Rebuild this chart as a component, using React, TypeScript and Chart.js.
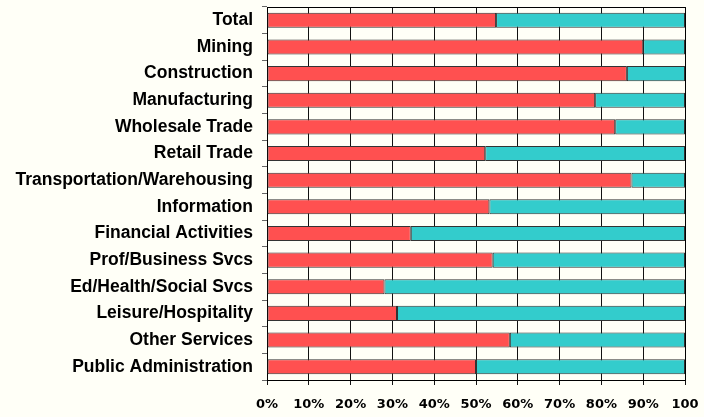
import { useEffect, useRef } from 'react';
import { Chart, registerables } from 'chart.js';

Chart.register(...registerables);

const categories = [
  'Total',
  'Mining',
  'Construction',
  'Manufacturing',
  'Wholesale Trade',
  'Retail Trade',
  'Transportation/Warehousing',
  'Information',
  'Financial Activities',
  'Prof/Business Svcs',
  'Ed/Health/Social Svcs',
  'Leisure/Hospitality',
  'Other Services',
  'Public Administration',
];

const redValues = [54.8, 90.0, 86.1, 78.5, 83.3, 52.2, 87.2, 53.2, 34.4, 54.0, 28.1, 31.1, 58.1, 50.0];
const tealValues = [45.2, 10.0, 13.9, 21.5, 16.7, 47.8, 12.8, 46.8, 65.6, 46.0, 71.9, 68.9, 41.9, 50.0];

const xTickValues = [0, 10, 20, 30, 40, 50, 60, 70, 80, 90, 100];
const xTickLabels = ['0%', '10%', '20%', '30%', '40%', '50%', '60%', '70%', '80%', '90%', '100'];

const BG = '#FFFFF7';
const RED = '#FF5050';
const TEAL = '#33CCCC';

export default function App() {
  const ref = useRef<HTMLCanvasElement>(null);

  useEffect(() => {
    if (!ref.current) return;
    const frame = {
      id: 'frame',
      afterDatasetsDraw(chart: any) {
        const { ctx, chartArea } = chart;
        const { left, right, top, bottom } = chartArea;
        ctx.save();
        ctx.strokeStyle = '#000';
        ctx.lineWidth = 1;
        ctx.beginPath();
        ctx.moveTo(Math.round(left), Math.round(top) + 0.5);
        ctx.lineTo(Math.round(right) + 0.5, Math.round(top) + 0.5);
        ctx.lineTo(Math.round(right) + 0.5, Math.round(bottom) + 0.5);
        ctx.stroke();
        ctx.restore();
      },
    };

    const chart = new Chart(ref.current, {
      type: 'bar',
      data: {
        labels: categories,
        datasets: [
          {
            data: redValues,
            backgroundColor: RED,
            borderColor: '#333333',
            borderWidth: 1,
            borderSkipped: false,
            barPercentage: 0.565,
            categoryPercentage: 1,
          },
          {
            data: tealValues,
            backgroundColor: TEAL,
            borderColor: '#333333',
            borderWidth: 1,
            borderSkipped: false,
            barPercentage: 0.565,
            categoryPercentage: 1,
          },
        ],
      },
      plugins: [frame],
      options: {
        indexAxis: 'y',
        animation: false,
        responsive: false,
        maintainAspectRatio: false,
        devicePixelRatio: 1,
        layout: { padding: { top: 7, right: 19, bottom: 0, left: 0 } },
        plugins: {
          legend: { display: false },
          tooltip: { enabled: false },
        },
        scales: {
          x: {
            type: 'linear',
            stacked: true,
            min: 0,
            max: 100,
            afterBuildTicks: (scale: any) => {
              scale.ticks = xTickValues.map((v) => ({ value: v }));
            },
            afterFit: (scale: any) => {
              scale.paddingLeft = 0;
              scale.paddingRight = 0;
              scale.height = 37;
            },
            grid: {
              color: '#111111',
              lineWidth: 1,
              tickLength: 5,
              drawTicks: true,
            },
            border: { color: '#000000', width: 1 },
            ticks: {
              padding: 12,
              color: '#000000',
              maxRotation: 0,
              autoSkip: false,
              font: { family: 'DejaVu Sans', size: 13, weight: 'bold' },
              callback: (v: any) => xTickLabels[xTickValues.indexOf(v)] ?? v + '%',
            },
          },
          y: {
            type: 'category',
            stacked: true,
            afterFit: (scale: any) => {
              scale.width = 267;
              scale.paddingTop = 0;
              scale.paddingBottom = 0;
            },
            grid: {
              drawOnChartArea: false,
              drawTicks: true,
              tickLength: 5,
              color: '#666666',
              offset: true,
            },
            border: { color: '#000000', width: 1 },
            ticks: {
              padding: 9,
              color: '#000000',
              autoSkip: false,
              font: { family: 'Liberation Sans', size: 17.5, weight: 'bold' },
            },
          },
        },
      },
    });
    return () => chart.destroy();
  }, []);

  return (
    <div style={{ position: 'fixed', left: 0, top: 0, width: 704, height: 417, background: BG }}>
      <canvas ref={ref} width={704} height={417} style={{ display: 'block', width: 704, height: 417 }} />
    </div>
  );
}
